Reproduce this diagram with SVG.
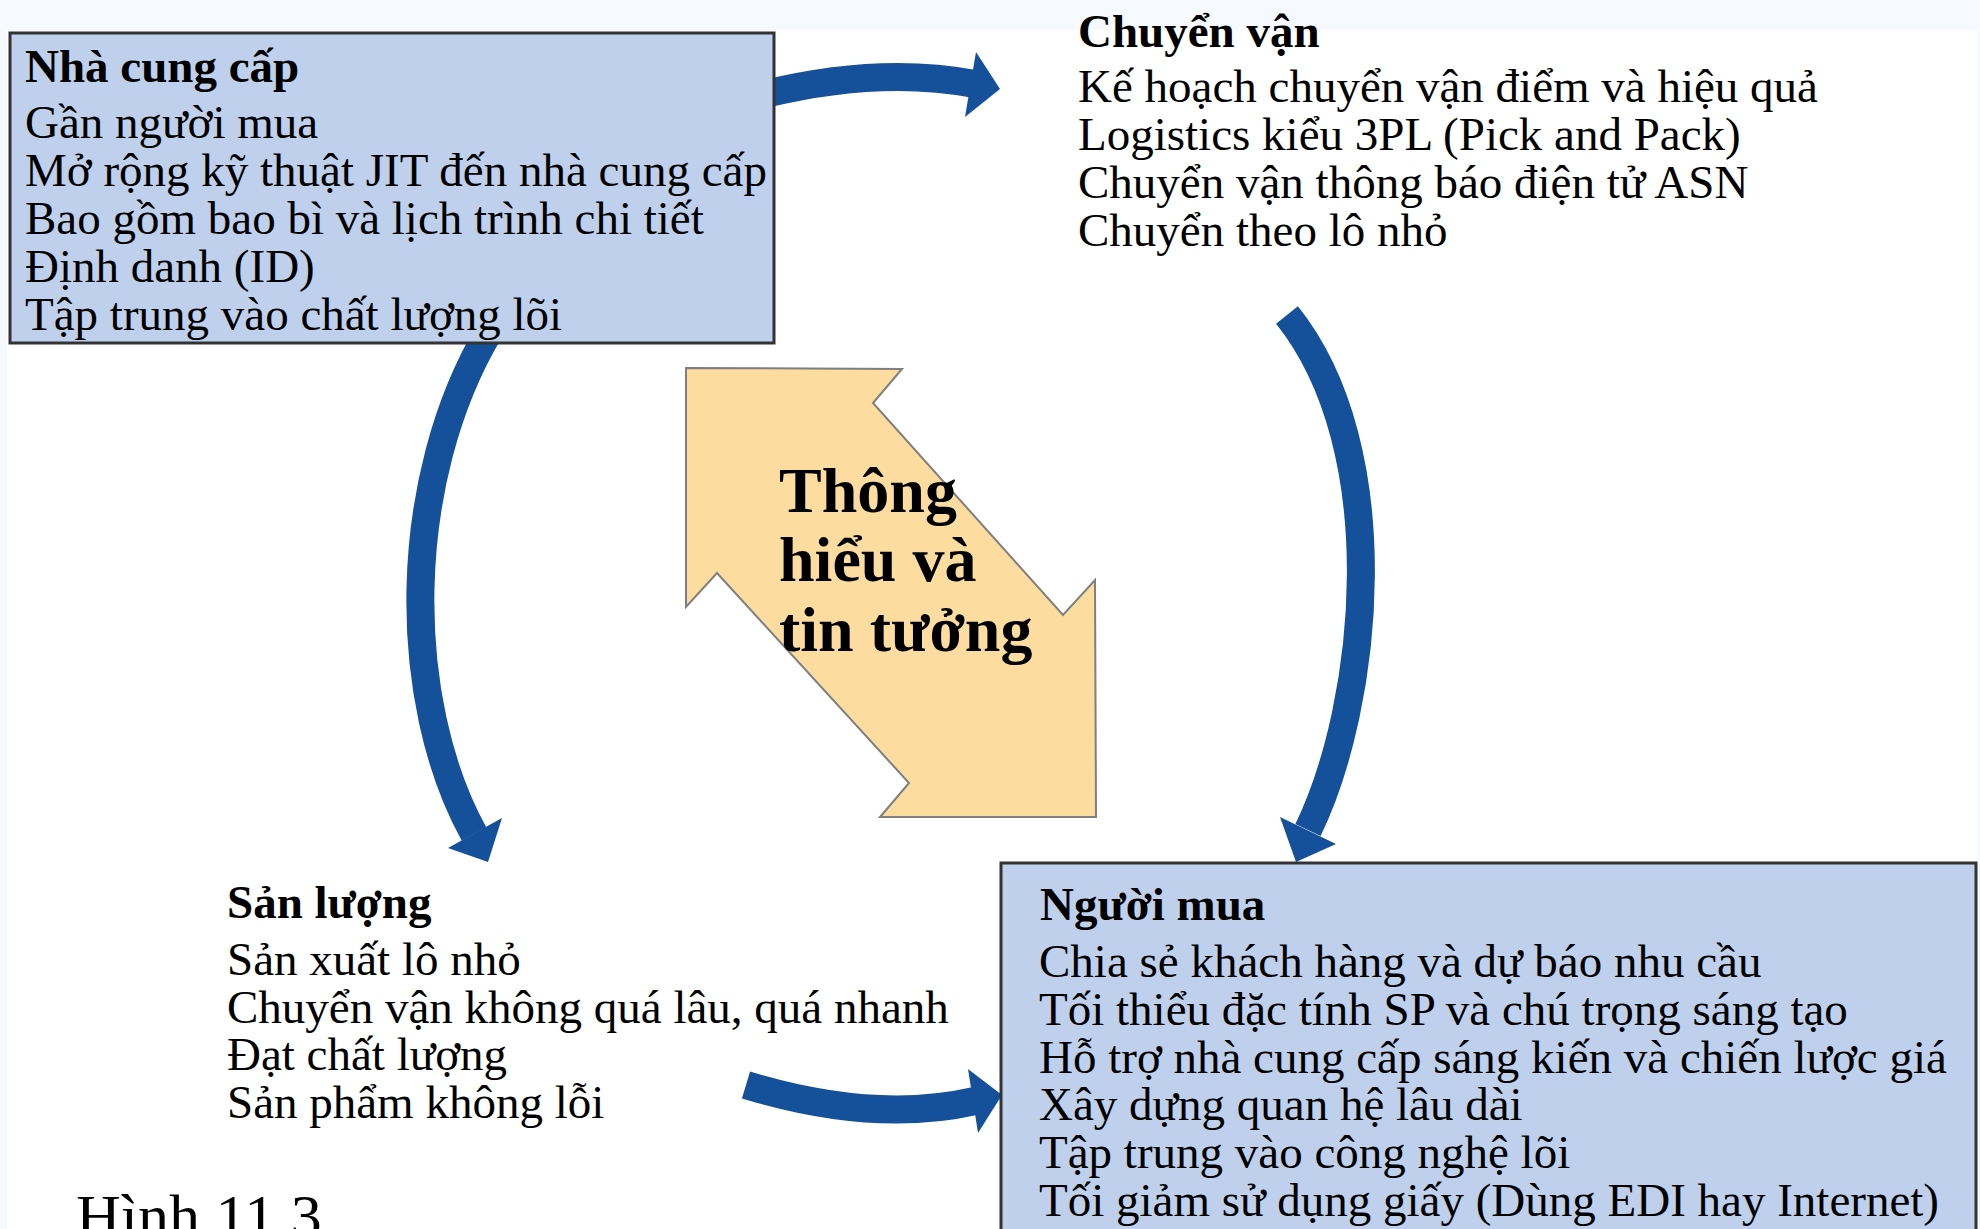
<svg xmlns="http://www.w3.org/2000/svg" width="1980" height="1229" viewBox="0 0 1980 1229">
<defs>
<style>
.t{font-family:"Liberation Serif","Times New Roman",serif;font-size:47px;fill:#000}
.h{font-weight:bold}
.c{font-family:"Liberation Serif","Times New Roman",serif;font-size:64px;font-weight:bold;fill:#000}
.box{fill:#BED0EC;stroke:#333;stroke-width:3}
.band{fill:none;stroke:#15509A;stroke-width:28;stroke-linecap:butt}
.head{fill:#15509A}
</style>
</defs>
<rect x="0" y="0" width="1980" height="1229" fill="#F6F9FE"/>
<rect x="7" y="30" width="1970" height="1199" fill="#FFFFFF"/>
<g id="connectors">
<path class="band" d="M765,94 Q880,66 975,84"/>
<polygon class="head" points="976,52 1000,89 965,117"/>
<path class="band" d="M490,330 C400,480 400,700 474,834"/>
<polygon class="head" points="448,848 502,818 488,862"/>
<path class="band" d="M1287,315 C1395,450 1369,704 1308,830"/>
<polygon class="head" points="1280,817 1336,844 1296,862"/>
<path class="band" d="M746,1085 Q874,1124 975,1101"/>
<polygon class="head" points="968,1069 1002,1095 978,1133"/>
</g>
<g id="center">
<polygon points="686,368 902,369 873,403 1063,615 1095,580 1096,817 880,817 909,783 717,573 686,607" fill="#FCDC9F" stroke="#7F7F7F" stroke-width="2"/>
<text class="c" x="779" y="512">Thông</text>
<text class="c" x="779" y="581">hiểu và</text>
<text class="c" x="779" y="651">tin tưởng</text>
</g>
<g id="supplier">
<rect class="box" x="10" y="33" width="764" height="310"/>
<text class="t h" x="25" y="82">Nhà cung cấp</text>
<text class="t" x="25" y="138">Gần người mua</text>
<text class="t" x="25" y="186">Mở rộng kỹ thuật JIT đến nhà cung cấp</text>
<text class="t" x="25" y="234">Bao gồm bao bì và lịch trình chi tiết</text>
<text class="t" x="25" y="282">Định danh (ID)</text>
<text class="t" x="25" y="330">Tập trung vào chất lượng lõi</text>
</g>
<g id="transport">
<text class="t h" x="1078" y="47">Chuyển vận</text>
<text class="t" x="1078" y="102">Kế hoạch chuyển vận điểm và hiệu quả</text>
<text class="t" x="1078" y="150">Logistics kiểu 3PL (Pick and Pack)</text>
<text class="t" x="1078" y="198">Chuyển vận thông báo điện tử ASN</text>
<text class="t" x="1078" y="246">Chuyển theo lô nhỏ</text>
</g>
<g id="output">
<text class="t h" x="227" y="918">Sản lượng</text>
<text class="t" x="227" y="975">Sản xuất lô nhỏ</text>
<text class="t" x="227" y="1023">Chuyển vận không quá lâu, quá nhanh</text>
<text class="t" x="227" y="1070">Đạt chất lượng</text>
<text class="t" x="227" y="1118">Sản phẩm không lỗi</text>
</g>
<g id="buyer">
<rect class="box" x="1001" y="863" width="975" height="380"/>
<text class="t h" x="1040" y="920">Người mua</text>
<text class="t" x="1039" y="977">Chia sẻ khách hàng và dự báo nhu cầu</text>
<text class="t" x="1039" y="1025">Tối thiểu đặc tính SP và chú trọng sáng tạo</text>
<text class="t" x="1039" y="1073">Hỗ trợ nhà cung cấp sáng kiến và chiến lược giá</text>
<text class="t" x="1039" y="1120">Xây dựng quan hệ lâu dài</text>
<text class="t" x="1039" y="1168">Tập trung vào công nghệ lõi</text>
<text class="t" x="1039" y="1216">Tối giảm sử dụng giấy (Dùng EDI hay Internet)</text>
</g>
<g id="caption">
<text class="t" x="76" y="1237" style="font-size:62px">Hình 11.3</text>
</g>
</svg>
